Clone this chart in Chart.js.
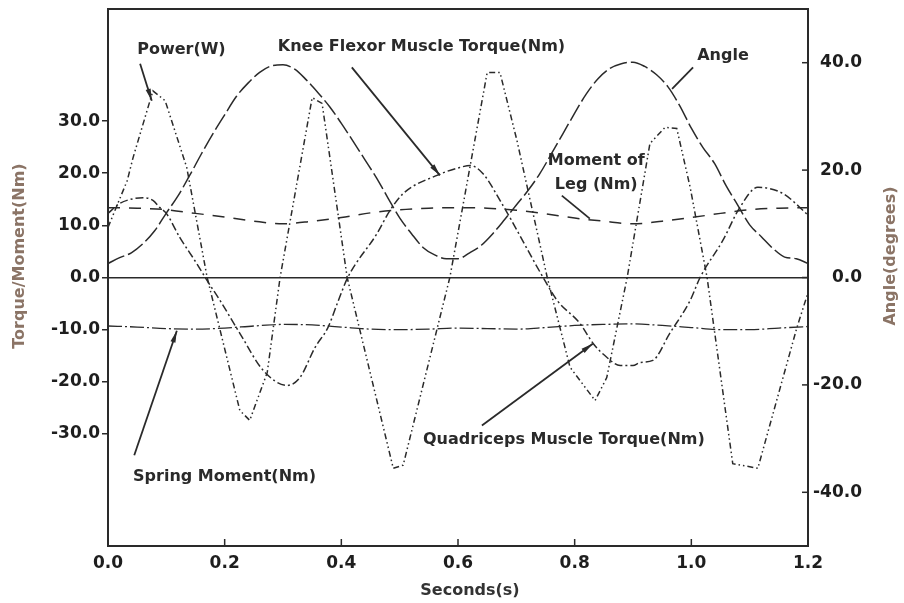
<!DOCTYPE html>
<html>
<head>
<meta charset="utf-8">
<script src="https://cdn.jsdelivr.net/npm/chart.js@4.4.1/dist/chart.umd.min.js"></script>
<style>
  html, body { margin: 0; padding: 0; background: #fff; }
  #wrap { width: 904px; height: 603px; position: relative; }
</style>
</head>
<body>
<div id="wrap"><canvas id="knee-chart"></canvas></div>
<script>
// knee angle (right axis, degrees)
const angleTime = [0, 0.02, 0.04, 0.06, 0.08, 0.10, 0.12, 0.14, 0.16, 0.18, 0.20, 0.22, 0.24, 0.26, 0.28, 0.30,
  0.32, 0.34, 0.36, 0.38, 0.40, 0.42, 0.44, 0.46, 0.48, 0.50, 0.52, 0.54, 0.56, 0.58, 0.60,
  0.62, 0.64, 0.66, 0.68, 0.70, 0.72, 0.74, 0.76, 0.78, 0.80, 0.82, 0.84, 0.86, 0.88, 0.90,
  0.92, 0.94, 0.96, 0.98, 1.00, 1.02, 1.04, 1.06, 1.08, 1.10, 1.12, 1.14, 1.16, 1.18, 1.20];
const angleDeg = [2.6, 3.7, 4.6, 6.3, 8.7, 12.0, 15.2, 19.0, 23.0, 26.8, 30.3, 33.7, 36.2, 38.2, 39.4, 39.6,
  38.8, 36.8, 34.4, 31.8, 28.7, 25.4, 22.0, 18.6, 14.8, 11.1, 8.2, 5.6, 4.2, 3.5, 3.5,
  4.6, 6.0, 8.2, 10.8, 13.5, 16.2, 19.3, 23.0, 26.8, 30.6, 34.2, 37.0, 38.9, 39.8, 40.1,
  39.3, 37.8, 35.5, 32.0, 27.8, 24.2, 21.2, 17.0, 13.4, 9.8, 7.6, 5.4, 3.8, 3.5, 2.6];

// moment of leg and spring moment (Nm)
const legTime = [0, 0.05, 0.10, 0.15, 0.20, 0.25, 0.30, 0.35, 0.40, 0.45, 0.50, 0.55, 0.60,
  0.65, 0.70, 0.75, 0.80, 0.85, 0.90, 0.95, 1.00, 1.05, 1.10, 1.15, 1.20];
const legMoment = [13.4, 13.3, 13.0, 12.3, 11.6, 10.8, 10.3, 10.8, 11.5, 12.4, 13.0, 13.3, 13.4,
  13.3, 12.9, 12.2, 11.4, 10.8, 10.3, 10.8, 11.5, 12.3, 13.0, 13.3, 13.4];
const springMoment = [-9.3, -9.5, -9.8, -9.9, -9.7, -9.3, -9.0, -9.1, -9.5, -9.9, -10.0, -9.9, -9.7,
  -9.8, -9.9, -9.6, -9.2, -9.0, -8.9, -9.2, -9.6, -10.0, -10.0, -9.7, -9.4];

// power (W)
const powerTime = [0, 0.033, 0.043, 0.077, 0.098, 0.135, 0.170, 0.226, 0.243, 0.273, 0.295, 0.350, 0.367,
  0.410, 0.489, 0.506, 0.586, 0.650, 0.672, 0.701, 0.753, 0.792, 0.835, 0.855, 0.890,
  0.929, 0.955, 0.975, 0.998, 1.027, 1.071, 1.114, 1.181, 1.200];
const powerW = [9.6, 18.6, 23.0, 35.8, 33.9, 21.1, 0.0, -25.5, -27.4, -18.2, 0.0, 34.5, 33.4,
  0.0, -36.6, -36.0, 0.0, 39.3, 39.3, 26.3, 0.0, -17.2, -23.6, -19.2, 0.0,
  25.7, 28.8, 28.6, 17.3, 0.0, -35.7, -36.6, -9.6, -2.9];

// muscle torque: knee flexor (positive) / quadriceps (negative)
const muscleTime = [0, 0.020, 0.043, 0.060, 0.077, 0.089, 0.100, 0.123, 0.152, 0.170, 0.192, 0.226, 0.266,
  0.307, 0.329, 0.355, 0.377, 0.395, 0.411, 0.461, 0.483, 0.506, 0.564, 0.603, 0.621,
  0.643, 0.672, 0.746, 0.770, 0.809, 0.832, 0.855, 0.878, 0.900, 0.912, 0.934, 0.963,
  0.998, 1.015, 1.054, 1.083, 1.114, 1.157, 1.200];
const muscleTorque = [12.3, 14.2, 15.1, 15.3, 14.8, 13.4, 12.3, 7.7, 2.7, -0.6, -4.4, -10.7, -17.8,
  -20.7, -19.2, -13.4, -9.6, -4.4, 0.0, 8.4, 12.8, 16.1, 19.6, 21.1, 21.5,
  19.9, 14.8, 0.0, -4.4, -8.8, -12.7, -15.3, -16.9, -16.9, -16.3, -15.9, -10.7,
  -4.4, 0.0, 7.1, 13.4, 17.3, 16.1, 12.0];

// tick labels
const secondTicks = [0, 0.2, 0.4, 0.6, 0.8, 1.0, 1.2];
const torqueTicks = [-30, -20, -10, 0, 10, 20, 30];
const angleTicks = [-40, -20, 0, 20, 40];

// callouts, placed in seconds / torque units
const notes = [
  { text: ['Power(W)'], at: [0.050, 43.7], align: 'left', arrow: [0.055, 41.0, 0.075, 33.9], head: true },
  { text: ['Knee Flexor Muscle Torque(Nm)'], at: [0.291, 44.3], align: 'left', arrow: [0.418, 40.3, 0.569, 19.6], head: true },
  { text: ['Angle'], at: [1.010, 42.6], align: 'left', arrow: [1.003, 40.3, 0.967, 36.2], head: false },
  { text: ['Moment of', 'Leg (Nm)'], at: [0.837, 22.4], align: 'center', arrow: [0.778, 15.7, 0.826, 11.3], head: false },
  { text: ['Spring Moment(Nm)'], at: [0.043, -38.3], align: 'left', arrow: [0.045, -34.1, 0.118, -10.2], head: true },
  { text: ['Quadriceps Muscle Torque(Nm)'], at: [0.540, -31.2], align: 'left', arrow: [0.641, -28.4, 0.831, -12.7], head: true }
];

const ink = '#2a2a2a';
const titleColor = '#8b7466';
const family = '"DejaVu Sans", "Liberation Sans", sans-serif';
const tickFont = { family: family, size: 17, weight: 'bold' };

const pairs = (ts, vs) => ts.map((t, i) => ({ x: t, y: vs[i] }));

const line = (ctx, x1, y1, x2, y2) => {
  ctx.beginPath();
  ctx.moveTo(x1, y1);
  ctx.lineTo(x2, y2);
  ctx.stroke();
};

// scales should not push the plot area around with their label overflow
const noOverflow = s => {
  s.paddingTop = 0;
  s.paddingBottom = 0;
  s.paddingLeft = 0;
  s.paddingRight = 0;
};

const decorPlugin = {
  id: 'decor',
  afterDatasetsDraw(chart) {
    const { ctx, chartArea: area, scales } = chart;
    const x = scales.x, yL = scales.yL, yR = scales.yR;
    ctx.save();
    ctx.strokeStyle = ink;
    ctx.fillStyle = ink;

    // frame
    ctx.lineWidth = 2;
    ctx.strokeRect(area.left, area.top, area.right - area.left, area.bottom - area.top);

    // inward ticks on bottom and right
    ctx.lineWidth = 1.5;
    secondTicks.forEach(v => {
      const px = x.getPixelForValue(v);
      line(ctx, px, area.bottom, px, area.bottom - 7);
    });
    angleTicks.forEach(v => {
      const py = yR.getPixelForValue(v);
      line(ctx, area.right, py, area.right - 6, py);
    });

    // axis titles
    ctx.textBaseline = 'middle';
    ctx.textAlign = 'center';
    ctx.fillStyle = titleColor;
    ctx.font = 'bold 16px ' + family;
    ctx.save();
    ctx.translate(20, 256);
    ctx.rotate(-Math.PI / 2);
    ctx.fillText('Torque/Moment(Nm)', 0, 0);
    ctx.restore();
    ctx.save();
    ctx.translate(891, 256);
    ctx.rotate(-Math.PI / 2);
    ctx.fillText('Angle(degrees)', 0, 0);
    ctx.restore();
    ctx.fillStyle = '#333';
    ctx.fillText('Seconds(s)', 470, 591);

    // callouts
    ctx.fillStyle = ink;
    ctx.font = 'bold 16px ' + family;
    notes.forEach(n => {
      const tx = x.getPixelForValue(n.at[0]);
      const ty = yL.getPixelForValue(n.at[1]);
      ctx.textAlign = n.align;
      n.text.forEach((s, i) => ctx.fillText(s, tx, ty + i * 24));

      const x1 = x.getPixelForValue(n.arrow[0]), y1 = yL.getPixelForValue(n.arrow[1]);
      const x2 = x.getPixelForValue(n.arrow[2]), y2 = yL.getPixelForValue(n.arrow[3]);
      ctx.lineWidth = 1.8;
      line(ctx, x1, y1, x2, y2);
      if (n.head) {
        const a = Math.atan2(y2 - y1, x2 - x1);
        const back = 12, half = 2.6;
        const bx = x2 - back * Math.cos(a), by = y2 - back * Math.sin(a);
        ctx.beginPath();
        ctx.moveTo(x2, y2);
        ctx.lineTo(bx + half * Math.sin(a), by - half * Math.cos(a));
        ctx.lineTo(bx - half * Math.sin(a), by + half * Math.cos(a));
        ctx.closePath();
        ctx.fill();
      }
    });
    ctx.restore();
  }
};

const baseLine = {
  borderColor: ink,
  borderWidth: 1.5,
  pointRadius: 0,
  fill: false
};

new Chart(document.getElementById('knee-chart'), {
  type: 'line',
  data: {
    datasets: [
      Object.assign({}, baseLine, {
        label: 'Angle', data: pairs(angleTime, angleDeg), yAxisID: 'yR',
        borderDash: [18, 4], cubicInterpolationMode: 'monotone'
      }),
      Object.assign({}, baseLine, {
        label: 'Moment of Leg (Nm)', data: pairs(legTime, legMoment), yAxisID: 'yL',
        borderDash: [12, 9], cubicInterpolationMode: 'monotone'
      }),
      Object.assign({}, baseLine, {
        label: 'Spring Moment(Nm)', data: pairs(legTime, springMoment), yAxisID: 'yL',
        borderDash: [14, 3, 2, 3], borderWidth: 1.3, cubicInterpolationMode: 'monotone'
      }),
      Object.assign({}, baseLine, {
        label: 'Muscle Torque(Nm)', data: pairs(muscleTime, muscleTorque), yAxisID: 'yL',
        borderDash: [8, 3, 2, 3], cubicInterpolationMode: 'monotone'
      }),
      Object.assign({}, baseLine, {
        label: 'Power(W)', data: pairs(powerTime, powerW), yAxisID: 'yL',
        borderDash: [6, 3, 1.5, 3, 1.5, 3], tension: 0
      })
    ]
  },
  options: {
    responsive: true,
    maintainAspectRatio: false,
    animation: false,
    devicePixelRatio: 1,
    layout: { padding: { top: 9, left: 0, right: 42, bottom: 0 } },
    plugins: {
      legend: { display: false },
      tooltip: { enabled: false }
    },
    scales: {
      x: {
        type: 'linear',
        min: 0,
        max: 1.2,
        afterBuildTicks: s => { s.ticks = secondTicks.map(v => ({ value: v })); },
        afterFit: s => { s.height = 57; noOverflow(s); },
        ticks: { callback: v => v.toFixed(1), font: tickFont, color: '#1e1e1e', padding: 7, maxRotation: 0, autoSkip: false },
        grid: { display: false, drawTicks: false },
        border: { display: true, color: ink, width: 2 }
      },
      yL: {
        type: 'linear',
        position: 'left',
        min: -51.5,
        max: 51.5,
        afterBuildTicks: s => { s.ticks = torqueTicks.map(v => ({ value: v })); },
        afterFit: s => { s.width = 108; noOverflow(s); },
        ticks: { callback: v => v.toFixed(1), font: tickFont, color: '#1e1e1e', padding: 2 },
        grid: {
          drawOnChartArea: true,
          color: c => (c.tick && c.tick.value === 0) ? ink : 'rgba(0,0,0,0)',
          lineWidth: 1.5,
          tickColor: ink,
          tickLength: 6
        },
        border: { display: true, color: ink, width: 2 }
      },
      yR: {
        type: 'linear',
        position: 'right',
        min: -50,
        max: 50,
        afterBuildTicks: s => { s.ticks = angleTicks.map(v => ({ value: v })); },
        afterFit: s => { s.width = 54; noOverflow(s); },
        ticks: { callback: v => v.toFixed(1), font: tickFont, color: '#1e1e1e', padding: 4, crossAlign: 'far' },
        grid: { display: false, drawTicks: false },
        border: { display: true, color: ink, width: 2 }
      }
    }
  },
  plugins: [decorPlugin]
});
</script>
</body>
</html>
